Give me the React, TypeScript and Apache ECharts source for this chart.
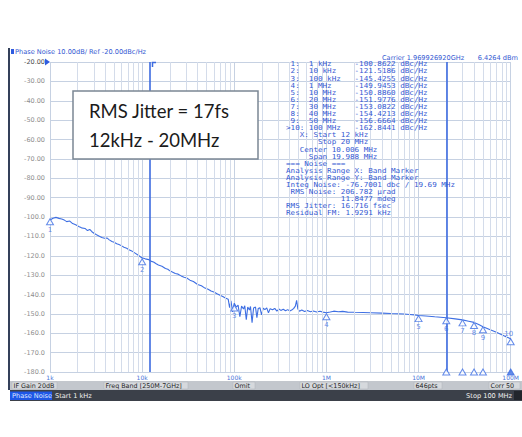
import React, { useEffect, useRef } from 'react';
import * as echarts from 'echarts';

// Phase noise trace (Hz, dBc/Hz)
const freqHz = [
  1000, 1080, 1160, 1250, 1340, 1430, 1520, 1640, 1760, 1900,
  2050, 2200, 2400, 2550, 2700, 2850, 3000, 3200, 3430, 3650,
  3900, 4150, 4400, 4700, 4960, 5300, 5600, 6000, 6350, 6800,
  7200, 7700, 8300, 9000, 9900,
  10800, 11800, 12600, 13300, 14200, 15000, 16400, 17900, 19000, 20000,
  21500, 22900, 24600, 26500, 28500, 30500, 33000, 36000, 40000, 44000,
  48000, 52000, 56000, 60000, 65000, 70000, 75000, 80000, 86000, 89000, 92000, 96000,
  100000, 105000, 110000, 115000, 120000, 126000, 130000, 135000, 140000, 146000,
  150000, 156000, 162000, 170000, 176000, 182000, 190000, 198000, 206000, 215000,
  225000, 235000, 245000, 260000, 275000, 290000, 305000, 320000, 340000, 360000,
  380000, 400000, 420000, 440000, 460000, 475000, 490000, 510000, 540000, 580000,
  620000, 670000, 720000, 780000, 850000, 920000,
  1000000, 1100000, 1200000, 1350000, 1500000, 1700000, 2000000, 2500000, 3000000, 4000000,
  5000000, 6000000, 7000000, 8000000, 9000000,
  10000000, 12000000, 15000000, 20000000, 25000000, 30000000, 35000000, 40000000, 45000000, 50000000,
  60000000, 70000000, 80000000, 90000000, 100000000,
];
const noiseDbc = [
  -101.5, -100.6, -100.2, -100.7, -101.0, -101.6, -102.4, -102.1, -103.4, -104.0,
  -104.9, -105.6, -105.9, -107.0, -106.4, -107.6, -108.4, -109.2, -109.9, -110.6,
  -111.0, -110.8, -111.8, -112.6, -113.0, -113.8, -114.2, -114.9, -115.6, -116.1,
  -116.9, -117.5, -118.5, -119.6, -121.0,
  -121.6, -122.0, -122.9, -123.2, -124.1, -124.8, -125.4, -126.6, -127.0, -127.8,
  -128.5, -129.2, -129.5, -130.4, -131.1, -131.5, -132.6, -133.3, -134.8, -135.5,
  -136.7, -137.3, -138.2, -138.7, -139.6, -140.4, -141.0, -141.8, -142.5, -146.8, -143.3, -149.0,
  -144.5, -146.5, -145.5, -151.5, -146.0, -147.5, -145.8, -153.0, -146.5, -148.0,
  -146.2, -154.5, -147.0, -146.5, -152.0, -147.2, -146.8, -150.5, -147.0, -147.8,
  -146.9, -149.5, -147.3, -147.9, -147.2, -148.6, -147.5, -148.2, -147.6, -148.4,
  -147.8, -148.5, -148.0, -147.3, -146.0, -143.0, -147.5, -148.6, -148.0, -148.8,
  -148.3, -148.9, -148.5, -149.0, -148.6, -149.1,
  -149.4, -149.0, -148.6, -148.9, -148.7, -149.1, -149.2, -149.3, -149.4, -149.6,
  -149.8, -149.9, -150.1, -150.3, -150.5,
  -150.8, -151.1, -151.5, -152.0, -152.6, -153.1, -153.8, -154.4, -155.5, -156.6,
  -158.2, -159.5, -160.8, -161.9, -162.8,
];

// Markers 1..10
const markerFreqs = [1e3, 1e4, 1e5, 1e6, 1e7, 2e7, 3e7, 4e7, 5e7, 1e8];
const markerDbc = [-100.8622, -121.5186, -145.4255, -149.9453, -150.886, -151.9776, -153.0822, -154.4213, -156.6664, -162.8441];
const bandEdges = [12000, 20000000];
const axisMarkerFreqs = [2e7, 3e7, 4e7, 5e7];
const xTickLabels = ['1k', '10k', '100k', '1M', '10M', '100M'];

const tableLines = [
  ' 1:  1 kHz     -100.8622 dBc/Hz',
  ' 2:  10 kHz    -121.5186 dBc/Hz',
  ' 3:  100 kHz   -145.4255 dBc/Hz',
  ' 4:  1 MHz     -149.9453 dBc/Hz',
  ' 5:  10 MHz    -150.8860 dBc/Hz',
  ' 6:  20 MHz    -151.9776 dBc/Hz',
  ' 7:  30 MHz    -153.0822 dBc/Hz',
  ' 8:  40 MHz    -154.4213 dBc/Hz',
  ' 9:  50 MHz    -156.6664 dBc/Hz',
  '>10: 100 MHz   -162.8441 dBc/Hz',
  '   X: Start 12 kHz',
  '       Stop 20 MHz',
  '   Center 10.006 MHz',
  '     Span 19.988 MHz',
  '=== Noise ===',
  'Analysis Range X: Band Marker',
  'Analysis Range Y: Band Marker',
  'Integ Noise: -76.7001 dbc / 19.69 MHz',
  ' RMS Noise: 206.782 µrad',
  '            11.8477 mdeg',
  'RMS Jitter: 16.716 fsec',
  'Residual FM: 1.9291 kHz',
];

const statusItems = ['IF Gain 20dB', 'Freq Band [250M-7GHz]', 'Omit', 'LO Opt [<150kHz]', '646pts', 'Corr 50'];

const BLUE = '#3e6fe3';
const GRID = '#c6d1e2';
const MINOR = '#d4dcea';
const TXT_BLUE = '#3358d2';

export default function App() {
  const ref = useRef<HTMLDivElement>(null);
  useEffect(() => {
    if (!ref.current) return;
    const chart = echarts.init(ref.current, undefined, { renderer: 'svg' });

    const minorFreqs: number[] = [];
    for (let d = 1e3; d < 1e8; d *= 10) {
      for (let k = 2; k <= 9; k++) minorFreqs.push(d * k);
    }

    const statusX = [12, 104, 233, 300, 414, 489];
    const statusW = [45, 84, 22, 68, 28, 31];

    const graphics: any[] = [
      // screen frame left
      { type: 'rect', shape: { x: 8, y: 48, width: 2, height: 342 }, style: { fill: '#34405a' }, z: 10 },
      // header
      { type: 'rect', shape: { x: 11, y: 49, width: 3, height: 5 }, style: { fill: '#2f5ce0' }, z: 10 },
      { type: 'text', x: 15, y: 51.5, style: { text: 'Phase Noise 10.00dB/ Ref -20.00dBc/Hz', fontSize: 6.6, fontFamily: 'DejaVu Sans', fill: TXT_BLUE, verticalAlign: 'middle' }, z: 10 },
      { type: 'text', x: 382, y: 57.5, style: { text: 'Carrier 1.969926920GHz', fontSize: 6.6, fontFamily: 'DejaVu Sans', fill: TXT_BLUE, verticalAlign: 'middle' }, z: 10 },
      { type: 'text', x: 518, y: 57.5, style: { text: '6.4264 dBm', fontSize: 6.6, fontFamily: 'DejaVu Sans', fill: TXT_BLUE, verticalAlign: 'middle', align: 'right' }, z: 10 },
      // reference arrow
      { type: 'polygon', shape: { points: [[45, 58.5], [50, 62], [45, 65.5]] }, style: { fill: '#2f5ce0' }, z: 10 },
      // RMS box
      { type: 'rect', shape: { x: 73, y: 91, width: 185, height: 68 }, style: { fill: '#ffffff', stroke: '#7b8794', lineWidth: 1.5 }, z: 20 },
      { type: 'text', x: 89, y: 111, style: { text: 'RMS Jitter = 17fs', fontSize: 18.5, fontFamily: 'Lato', fill: '#1b1b1b', verticalAlign: 'middle' }, z: 21 },
      { type: 'text', x: 89, y: 139.5, style: { text: '12kHz - 20MHz', fontSize: 18.5, fontFamily: 'Lato', fill: '#1b1b1b', verticalAlign: 'middle' }, z: 21 },
      // status bar
      { type: 'rect', shape: { x: 10, y: 381, width: 512, height: 9 }, style: { fill: '#c3c7cd' }, z: 10 },
      // dark bar
      { type: 'rect', shape: { x: 10, y: 390, width: 512, height: 11 }, style: { fill: '#3b4049' }, z: 10 },
      { type: 'rect', shape: { x: 10, y: 391.5, width: 42, height: 8.5 }, style: { fill: '#1f57e6' }, z: 11 },
      { type: 'text', x: 12, y: 395.8, style: { text: 'Phase Noise', fontSize: 6.6, fontFamily: 'DejaVu Sans', fill: '#dfe8ff', verticalAlign: 'middle' }, z: 12 },
      { type: 'text', x: 55, y: 395.8, style: { text: 'Start 1 kHz', fontSize: 6.6, fontFamily: 'DejaVu Sans', fill: '#f2f2f2', verticalAlign: 'middle' }, z: 12 },
      { type: 'text', x: 512, y: 395.8, style: { text: 'Stop 100 MHz', fontSize: 6.6, fontFamily: 'DejaVu Sans', fill: '#f2f2f2', verticalAlign: 'middle', align: 'right' }, z: 12 },
      { type: 'rect', shape: { x: 514, y: 391, width: 8, height: 9 }, style: { fill: '#22262c' }, z: 12 },
      // band marker hook
      { type: 'polyline', shape: { points: [[152.5, 67], [152.5, 62.5], [156, 62.5]] }, style: { stroke: '#3d6be0', lineWidth: 1.5, fill: 'none' }, z: 10 },
    ];
    // marker table, one text per line
    tableLines.forEach((line, i) => {
      graphics.push({
        type: 'text',
        x: 286,
        y: 64 + i * 7.1,
        scaleX: 1.1,
        style: { text: line, fontSize: 6.9, fontFamily: 'DejaVu Sans Mono', fill: TXT_BLUE, lineHeight: 7, verticalAlign: 'middle' },
        z: 10,
      });
    });
    statusItems.forEach((t, i) => {
      graphics.push({ type: 'rect', shape: { x: statusX[i], y: 382, width: statusW[i], height: 7 }, style: { fill: '#d6d9dd', stroke: '#aeb3ba', lineWidth: 0.5 }, z: 11 });
      graphics.push({ type: 'text', x: statusX[i] + 1.5, y: 385.6, style: { text: t, fontSize: 6.4, fontFamily: 'DejaVu Sans', fill: '#1e1e1e', verticalAlign: 'middle' }, z: 12 });
    });

    chart.setOption({
      animation: false,
      backgroundColor: '#ffffff',
      grid: { left: 50, right: 3, top: 62, bottom: 65 },
      xAxis: {
        type: 'log',
        logBase: 10,
        min: 1000,
        max: 100000000,
        axisLine: { show: false },
        axisTick: { show: false },
        splitLine: { show: true, lineStyle: { color: GRID, width: 1 } },
        axisLabel: {
          fontSize: 6,
          color: '#4b74d9',
          margin: 2,
          fontFamily: 'DejaVu Sans',
          formatter: (v: number) => xTickLabels[Math.round(Math.log10(v)) - 3] ?? '',
        },
      },
      yAxis: {
        type: 'value',
        min: -180,
        max: -20,
        interval: 10,
        axisLine: { show: false },
        axisTick: { show: false },
        splitLine: { show: true, lineStyle: { color: GRID, width: 1 } },
        axisLabel: {
          fontSize: 6.5,
          fontFamily: 'DejaVu Sans',
          margin: 5,
          color: (v: any) => (Number(v) === -20 ? '#4a4a4a' : '#8e8e8e'),
          formatter: (v: number) => (v > -100 ? v.toFixed(2) : v.toFixed(1)),
        },
      },
      series: [
        {
          type: 'line',
          data: [],
          z: 1,
          silent: true,
          markLine: {
            silent: true,
            symbol: ['none', 'none'],
            label: { show: false },
            lineStyle: { color: MINOR, width: 1, type: 'solid' },
            data: minorFreqs.map((f) => ({ xAxis: f })),
          },
        },
        {
          type: 'line',
          data: freqHz.map((f, i) => [f, noiseDbc[i]]),
          showSymbol: false,
          symbol: 'none',
          z: 3,
          lineStyle: { color: BLUE, width: 1.1 },
        },
        {
          type: 'line',
          data: [],
          z: 4,
          silent: true,
          markLine: {
            silent: true,
            symbol: ['none', 'none'],
            label: { show: false },
            lineStyle: { color: '#3d6be0', width: 1.6, type: 'solid' },
            data: bandEdges.map((f) => ({ xAxis: f })),
          },
        },
        {
          type: 'scatter',
          z: 5,
          symbol: 'triangle',
          symbolSize: [7, 6],
          symbolOffset: [0, 3],
          itemStyle: { color: '#ffffff', borderColor: BLUE, borderWidth: 1 },
          label: {
            show: true,
            position: 'bottom',
            distance: 1,
            fontSize: 7,
            fontFamily: 'DejaVu Sans',
            color: BLUE,
            formatter: (p: any) => String(p.dataIndex + 1),
          },
          data: markerFreqs.map((f, i) => ({
            value: [f, markerDbc[i]],
            label: i === 9 ? { position: 'top', offset: [-2, 0] } : undefined,
          })),
        },
        {
          type: 'scatter',
          z: 5,
          symbol: 'triangle',
          symbolSize: [7, 6],
          symbolOffset: [0, 0],
          itemStyle: { color: '#ffffff', borderColor: BLUE, borderWidth: 1 },
          data: [
            ...axisMarkerFreqs.map((f) => [f, -180]),
            { value: [1e8, -180], itemStyle: { color: BLUE } },
          ],
        },
      ],
      graphic: graphics,
    });
    return () => chart.dispose();
  }, []);
  return <div ref={ref} style={{ position: 'fixed', left: 0, top: 0, width: 522, height: 437 }} />;
}
